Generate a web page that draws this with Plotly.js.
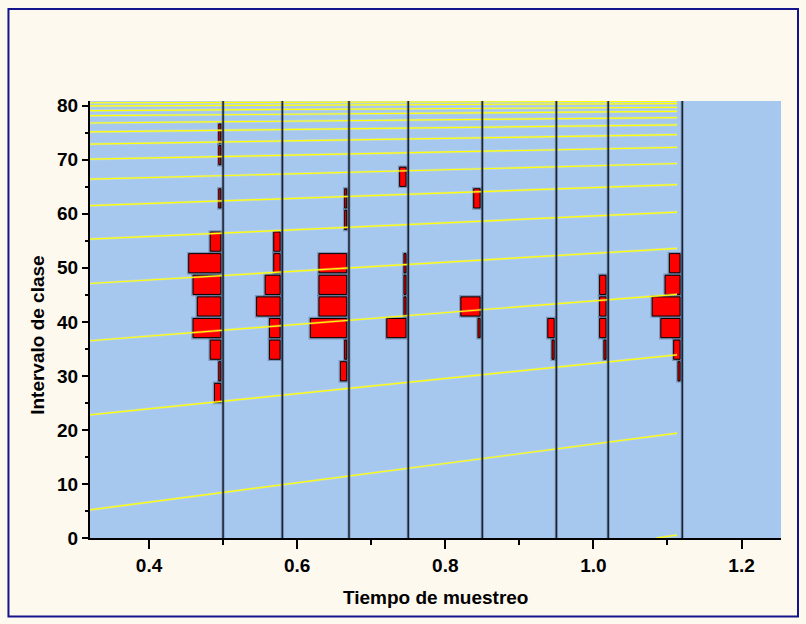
<!DOCTYPE html>
<html>
<head>
<meta charset="utf-8">
<script src="https://cdn.plot.ly/plotly-3.0.1.min.js"></script>
<style>html,body{margin:0;padding:0;background:#fdf9ef;}#chart{width:806px;height:624px;}</style>
</head>
<body>
<div id="chart"></div>
<script>
// ---- data ----
const binCenters = [26.85, 30.85, 34.85, 38.85, 42.85, 46.85, 50.85, 54.85, 58.85, 62.85, 66.85, 70.85, 74.85];
const sampleTimes = [0.5, 0.58, 0.67, 0.75, 0.85, 0.95, 1.02, 1.12];
const counts050 = [2, 1, 3, 7, 6, 7, 8, 3, 0, 1, 0, 1, 1];
const counts058 = [0, 0, 3, 3, 6, 4, 2, 2, 0, 0, 0, 0, 0];
const counts067 = [0, 2, 1, 9, 7, 7, 7, 0, 1, 1, 0, 0, 0];
const counts075 = [0, 0, 0, 5, 1, 1, 1, 0, 0, 0, 2, 0, 0];
const counts085 = [0, 0, 0, 1, 5, 0, 0, 0, 0, 2, 0, 0, 0];
const counts095 = [0, 0, 1, 2, 0, 0, 0, 0, 0, 0, 0, 0, 0];
const counts102 = [0, 0, 1, 2, 2, 2, 0, 0, 0, 0, 0, 0, 0];
const counts112 = [0, 1, 2, 5, 7, 4, 3, 0, 0, 0, 0, 0, 0];
const countsByTime = [counts050, counts058, counts067, counts075, counts085, counts095, counts102, counts112];

// sloping reference lines: y at left edge and y at right end
const refLeftY  = [5.2, 22.8, 36.5, 47.1, 55.3, 61.5, 66.4, 70.1, 72.9, 75.15, 76.8, 78.15, 79.1, 79.95, 80.55];
const refRightY = [19.4, 33.9, 45.1, 53.6, 60.3, 65.4, 69.3, 72.3, 74.65, 76.45, 77.8, 78.95, 79.7, 80.4, 80.8];
const refStubX = [1.085, 1.113];
const refStubY = [0, 0.55];

const xRange = [0.3203, 1.2533];
const yRange = [0, 80.87];
const refXEnd = 1.113;

// ---- build ----
const unit = 0.0058;   // x-length per count
const gap = 0.003;     // small gap before the vertical line
const barY = [], barLen = [], barBase = [];
sampleTimes.forEach((t, i) => {
  countsByTime[i].forEach((c, j) => {
    if (c > 0) {
      barY.push(binCenters[j]);
      barBase.push(t - c * unit);
      barLen.push(c * unit - gap);
    }
  });
});

const vx = [], vy = [];
sampleTimes.forEach(t => { vx.push(t, t, null); vy.push(yRange[0], yRange[1], null); });

const yx = [], yy = [];
refLeftY.forEach((l, i) => { yx.push(xRange[0], refXEnd, null); yy.push(l, refRightY[i], null); });
yx.push(refStubX[0], refStubX[1], null); yy.push(refStubY[0], refStubY[1], null);

const traces = [
  {type: 'scatter', mode: 'lines', x: yx, y: yy, line: {color: 'rgba(255,255,150,0.3)', width: 2.6}, hoverinfo: 'skip'},
  {type: 'scatter', mode: 'lines', x: yx, y: yy, line: {color: '#ffff00', width: 1.2}, hoverinfo: 'skip'},
  {type: 'scatter', mode: 'lines', x: vx, y: vy, line: {color: 'rgba(40,50,80,0.3)', width: 3.2}, hoverinfo: 'skip'},
  {type: 'scatter', mode: 'lines', x: vx, y: vy, line: {color: '#1c222e', width: 1.5}, hoverinfo: 'skip'},
  {type: 'bar', orientation: 'h', y: barY, x: barLen, base: barBase, width: 3.55,
   marker: {color: 'rgba(0,0,0,0)', line: {color: 'rgba(50,60,90,0.35)', width: 3.5}}, hoverinfo: 'skip'},
  {type: 'bar', orientation: 'h', y: barY, x: barLen, base: barBase, width: 3.55,
   marker: {color: '#ff0000', line: {color: '#000000', width: 1}}}
];

const tickFont = {family: '"Liberation Sans", Arial, sans-serif', size: 19, color: '#000', weight: 'bold'};
const titleFont = {family: '"Liberation Sans", Arial, sans-serif', size: 19, color: '#000', weight: 'bold'};

const layout = {
  width: 806, height: 624,
  margin: {l: 90, r: 25, t: 101, b: 86},
  paper_bgcolor: '#fdf9ef',
  plot_bgcolor: '#a6c8ee',
  showlegend: false,
  barmode: 'overlay',
  xaxis: {
    range: xRange, tick0: 0.4, dtick: 0.2, tickformat: '.1f',
    showgrid: false, zeroline: false, showline: true, linecolor: '#000', linewidth: 2,
    ticks: 'outside', ticklen: 9, tickwidth: 2, tickcolor: '#000', tickfont: tickFont,
    minor: {tick0: 0.4, dtick: 0.1, ticks: 'outside', ticklen: 5, tickwidth: 2, tickcolor: '#000', showgrid: false}
  },
  yaxis: {
    range: yRange, tick0: 0, dtick: 10,
    showgrid: false, zeroline: false, showline: true, linecolor: '#000', linewidth: 2,
    ticks: 'outside', ticklen: 6, tickwidth: 2, tickcolor: '#000', tickfont: tickFont,
    minor: {tick0: 0, dtick: 5, ticks: 'outside', ticklen: 3.5, tickwidth: 2, tickcolor: '#000', showgrid: false}
  },
  annotations: [
    {text: 'Tiempo de muestreo', xref: 'paper', yref: 'paper', x: 0.5, y: -0.137, xanchor: 'center', yanchor: 'middle', showarrow: false, font: titleFont},
    {text: 'Intervalo de clase', xref: 'paper', yref: 'paper', x: -0.077, y: 0.4645, xanchor: 'center', yanchor: 'middle', textangle: -90, showarrow: false, font: titleFont}
  ],
  shapes: [
    {type: 'rect', xref: 'paper', yref: 'paper', x0: -0.118, x1: 1.0246, y0: -0.1796, y1: 1.2105, line: {color: '#14148c', width: 2}, fillcolor: 'rgba(0,0,0,0)', layer: 'below'}
  ]
};

Plotly.newPlot('chart', traces, layout, {displayModeBar: false, staticPlot: true});
</script>
</body>
</html>
